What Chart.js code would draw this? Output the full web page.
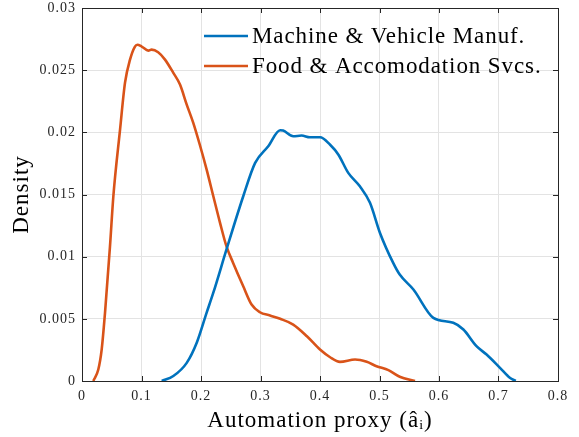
<!DOCTYPE html>
<html>
<head>
<meta charset="utf-8">
<script src="https://cdn.jsdelivr.net/npm/chart.js@4.4.0/dist/chart.umd.min.js"></script>
<style>
  html, body { margin: 0; padding: 0; background: #fff; }
  #wrap { width: 579px; height: 437px; }
</style>
</head>
<body>
<div id="wrap"><canvas id="densityChart" width="579" height="437"></canvas></div>
<script>
// Series labels
const seriesNames = ["Machine & Vehicle Manuf.", "Food & Accomodation Svcs."];

// Machine & Vehicle Manuf. density
const machineX = [0.134, 0.1535, 0.176, 0.193, 0.2095, 0.2207, 0.243, 0.271, 0.291, 0.313, 0.333, 0.338,
  0.355, 0.369, 0.383, 0.4, 0.417, 0.431, 0.4475, 0.467, 0.484, 0.5008, 0.523, 0.534, 0.557, 0.5905,
  0.624, 0.641, 0.663, 0.68, 0.7025, 0.719, 0.729];
const machineY = [0, 0.0004, 0.00146, 0.0031, 0.0055, 0.0071, 0.0106, 0.01486, 0.01754, 0.01888, 0.02017, 0.02014,
  0.01968, 0.01974, 0.0196, 0.0196, 0.019, 0.0182, 0.01674, 0.01566, 0.01433, 0.01191, 0.0095, 0.00856, 0.00736, 0.00508,
  0.00468, 0.00414, 0.0028, 0.00213, 0.00106, 0.00026, 0];

// Food & Accomodation Svcs. density
const foodX = [0.019, 0.0274, 0.033, 0.0387, 0.047, 0.0527, 0.0639, 0.0723, 0.0807, 0.089, 0.093, 0.1003,
  0.1115, 0.117, 0.128, 0.1395, 0.1535, 0.1647, 0.176, 0.187, 0.198, 0.2095, 0.2207, 0.232, 0.243, 0.254,
  0.271, 0.285, 0.299, 0.316, 0.333, 0.355, 0.378, 0.4, 0.417, 0.4336, 0.459, 0.4785, 0.495, 0.515, 0.534, 0.5597];
const foodY = [0, 0.00092, 0.0025, 0.0055, 0.0108, 0.01486, 0.0202, 0.024, 0.02585, 0.0269, 0.02705, 0.0269,
  0.02657, 0.02665, 0.02644, 0.02585, 0.02478, 0.02384, 0.02223, 0.02076, 0.01900, 0.0170, 0.01486, 0.01272, 0.0108, 0.0095,
  0.00762, 0.00615, 0.00553, 0.00527, 0.005, 0.00454, 0.0036, 0.00253, 0.00191, 0.00154, 0.00173, 0.00154, 0.00119, 0.00087, 0.00034, 0];

// Tick values
const xTicks = [0, 0.1, 0.2, 0.3, 0.4, 0.5, 0.6, 0.7, 0.8];
const yTicks = [0, 0.005, 0.01, 0.015, 0.02, 0.025, 0.03];

const seriesColors = ["#0072BD", "#D95319"];
const axisColor = "#262626";
const gridColor = "#e3e3e3";
const serif = "'Liberation Serif', 'DejaVu Serif', serif";

function toPoints(xs, ys) {
  return xs.map((x, i) => ({ x: x, y: ys[i] }));
}

// wider letter spacing, closer to the LaTeX font of the original
const spacingPlugin = {
  id: "spacingPlugin",
  beforeDraw(chart) {
    chart.ctx.letterSpacing = "1px";
  }
};

// Box with inward tick marks (MATLAB style) and the legend
const boxPlugin = {
  id: "boxPlugin",
  afterDraw(chart) {
    const { ctx, chartArea: a, scales } = chart;
    ctx.save();
    ctx.strokeStyle = axisColor;
    ctx.lineWidth = 1;
    ctx.strokeRect(a.left + 0.5, a.top + 0.5, a.right - a.left, a.bottom - a.top);
    const tl = 5;
    ctx.beginPath();
    xTicks.forEach((v) => {
      const px = Math.round(scales.x.getPixelForValue(v)) + 0.5;
      ctx.moveTo(px, a.bottom); ctx.lineTo(px, a.bottom - tl);
      ctx.moveTo(px, a.top); ctx.lineTo(px, a.top + tl);
    });
    yTicks.forEach((v) => {
      const py = Math.round(scales.y.getPixelForValue(v)) + 0.5;
      ctx.moveTo(a.left, py); ctx.lineTo(a.left + tl, py);
      ctx.moveTo(a.right, py); ctx.lineTo(a.right - tl, py);
    });
    ctx.stroke();

    // legend inside the plot, top right
    ctx.font = "23px " + serif;
    ctx.letterSpacing = "0.9px";
    ctx.textBaseline = "middle";
    ctx.textAlign = "left";
    chart.data.datasets.forEach((ds, i) => {
      const y = a.top + 28 + i * 30;
      const x0 = a.left + 122;
      ctx.strokeStyle = ds.borderColor;
      ctx.lineWidth = 2.6;
      ctx.beginPath();
      ctx.moveTo(x0, y); ctx.lineTo(x0 + 44, y);
      ctx.stroke();
      ctx.fillStyle = "#000";
      ctx.fillText(ds.label, x0 + 48, y + 1);
    });
    ctx.restore();
  }
};

const ctx = document.getElementById("densityChart").getContext("2d");

new Chart(ctx, {
  type: "line",
  data: {
    datasets: [
      {
        label: seriesNames[0],
        data: toPoints(machineX, machineY),
        borderColor: seriesColors[0],
        borderWidth: 2.6,
        pointRadius: 0,
        tension: 0.4,
        cubicInterpolationMode: "monotone",
        fill: false,
      },
      {
        label: seriesNames[1],
        data: toPoints(foodX, foodY),
        borderColor: seriesColors[1],
        borderWidth: 2.6,
        pointRadius: 0,
        tension: 0.4,
        cubicInterpolationMode: "monotone",
        fill: false,
      },
    ],
  },
  options: {
    responsive: false,
    animation: false,
    layout: { padding: { top: 8, right: 21, left: 0, bottom: 0 } },
    plugins: {
      legend: { display: false },
      tooltip: { enabled: false },
    },
    scales: {
      x: {
        type: "linear",
        min: 0,
        max: 0.8,
        afterBuildTicks: (scale) => { scale.ticks = xTicks.map((v) => ({ value: v })); },
        afterFit: (scale) => { scale.height = 56; scale.paddingLeft = 0; scale.paddingRight = 0; },
        grid: { color: gridColor, drawTicks: false },
        border: { display: false },
        ticks: {
          color: axisColor,
          padding: 7,
          maxRotation: 0,
          font: { family: serif, size: 14 },
          callback: (v) => String(v),
        },
        title: {
          display: true,
          text: "Automation proxy (âᵢ)",
          color: "#000",
          font: { family: serif, size: 23 },
          padding: { top: 0, bottom: 2 },
        },
      },
      y: {
        type: "linear",
        min: 0,
        max: 0.03,
        afterBuildTicks: (scale) => { scale.ticks = yTicks.map((v) => ({ value: v })); },
        afterFit: (scale) => { scale.width = 82; scale.paddingTop = 0; scale.paddingBottom = 0; },
        grid: { color: gridColor, drawTicks: false },
        border: { display: false },
        ticks: {
          color: axisColor,
          padding: 6,
          font: { family: serif, size: 14 },
          callback: (v) => String(v),
        },
        title: {
          display: true,
          text: "Density",
          color: "#000",
          font: { family: serif, size: 23 },
          padding: { top: 8, bottom: 0 },
        },
      },
    },
  },
  plugins: [spacingPlugin, boxPlugin],
});
</script>
</body>
</html>
